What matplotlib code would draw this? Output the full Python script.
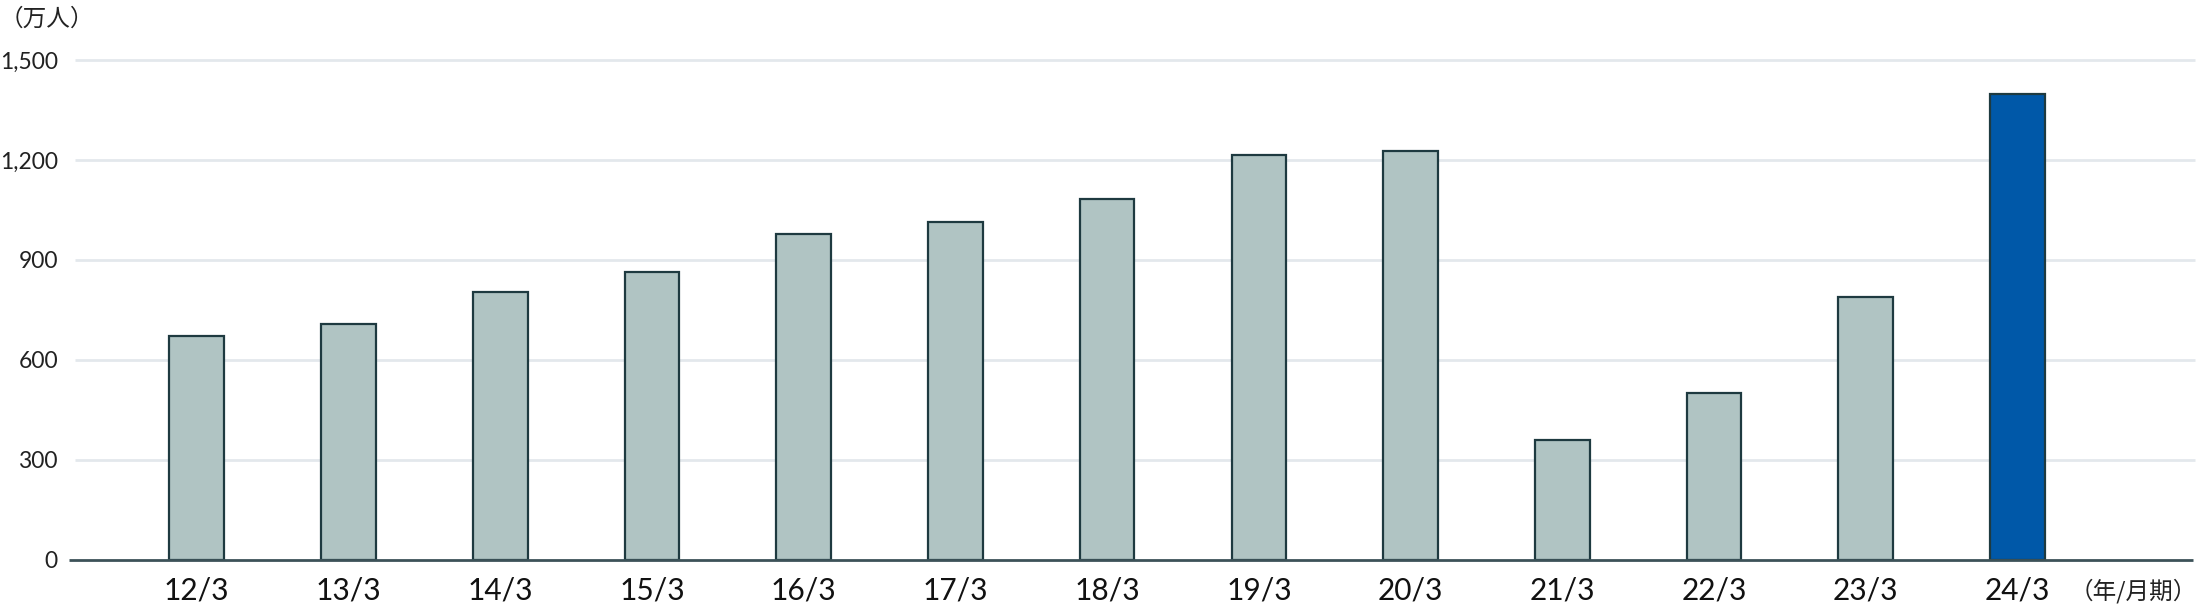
import matplotlib
matplotlib.use("Agg")
import matplotlib.pyplot as plt

categories = ["12/3", "13/3", "14/3", "15/3", "16/3", "17/3", "18/3",
              "19/3", "20/3", "21/3", "22/3", "23/3", "24/3"]
values = [672, 709, 803, 865, 979, 1015, 1084, 1216, 1228, 359, 502, 790, 1399]
yticks = [0, 300, 600, 900, 1200, 1500]
ytick_labels = ["0", "300", "600", "900", "1,200", "1,500"]

plt.rcParams['font.family'] = ['Lato', 'Noto Sans CJK JP', 'DejaVu Sans']

W, H = 2200, 607
fig = plt.figure(figsize=(W / 100, H / 100), dpi=100)
left, right = 69 / W, 2195 / W
bottom, top = 1 - 560 / H, 1 - 60 / H
ax = fig.add_axes([left, bottom, right - left, top - bottom])

x = list(range(len(categories)))
colors = ["#b0c4c3"] * (len(categories) - 1) + ["#0058a8"]
ax.bar(x, values, width=0.36, color=colors, edgecolor="#1e3a40",
       linewidth=1.6, zorder=3)

ax.set_xlim(-0.842, 13.17)
ax.set_ylim(0, 1500)

for t in yticks[1:]:
    ax.hlines(t, -0.80, 13.17, color="#e3e8ec", linewidth=2, zorder=1,
              clip_on=False)
ax.hlines(0, -0.842, 13.16, color="#3c5258", linewidth=2, zorder=4,
          clip_on=False)

for s in ax.spines.values():
    s.set_visible(False)

ax.set_yticks(yticks)
ax.set_yticklabels(ytick_labels, fontsize=16.5, color="#222222")
ax.tick_params(axis='y', length=0, pad=8)
ax.set_xticks(x)
ax.set_xticklabels(categories, fontsize=21.5, color="#111111")
ax.tick_params(axis='x', length=0, pad=12)

fig.text(0 / W, 1 - 19 / H, "（万人）", fontsize=17, va="center", ha="left",
         family=['Noto Sans CJK JP', 'DejaVu Sans'], color="#222222")
fig.text(2197 / W, 1 - 591 / H, "（年/月期）", fontsize=17, va="center",
         ha="right", family=['Noto Sans CJK JP', 'DejaVu Sans'],
         color="#222222")

fig.savefig("out.png", dpi=100)
